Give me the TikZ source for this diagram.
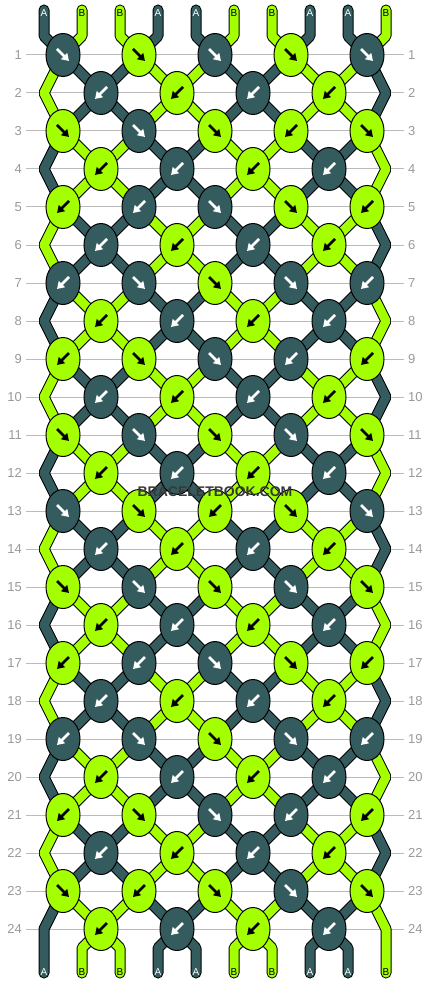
\documentclass[tikz,border=0pt]{standalone}
\usepackage{fontspec}
\setmainfont{Liberation Sans}
\usetikzlibrary{shapes.geometric,arrows.meta,backgrounds}
\definecolor{colA}{HTML}{345B5E}
\definecolor{colB}{HTML}{A4FF00}
\definecolor{arrA}{HTML}{FFFFFF}
\definecolor{arrB}{HTML}{000000}
\definecolor{numgray}{HTML}{999999}
\definecolor{linegray}{HTML}{BBBBBB}
\definecolor{wmgray}{HTML}{383838}

\begin{document}
\begin{tikzpicture}[x=1pt, y=-1pt,
    knot/.style={ellipse, draw, line width=1pt, minimum width=34pt, minimum height=43pt, inner sep=0pt},
    knotarrow/.style={line width=2.6pt, -{Triangle[length=7pt,width=8.5pt]}},
    thread/.style={draw=black, line width=1pt, double distance=9pt, line join=bevel, line cap=round},
    lab/.style={font=\fontsize{10}{10}\selectfont, inner sep=0pt},
    num/.style={font=\fontsize{13}{13}\selectfont, text=numgray, inner sep=4pt},
    rowline/.style={draw=linegray, line width=1pt},
    wmark/.style={font=\bfseries\fontsize{14}{14}\selectfont, text=wmgray}]
  \useasboundingbox (0,0) rectangle (430,984);

  % knots, row by row: colour / direction
  \foreach \r/\row in {1/{A/R,B/R,A/R,B/R,A/R}, 2/{A/L,B/L,A/L,B/L},
      3/{B/R,A/R,B/R,B/L,B/R}, 4/{B/L,A/L,B/L,A/L},
      5/{B/L,A/L,A/R,B/R,B/L}, 6/{A/L,B/L,A/L,B/L},
      7/{A/L,A/R,B/R,A/R,A/L}, 8/{B/L,A/L,B/L,A/L},
      9/{B/L,B/R,A/R,A/L,B/L}, 10/{A/L,B/L,A/L,B/L},
      11/{B/R,A/R,B/R,A/R,B/R}, 12/{B/L,A/L,B/L,A/L},
      13/{A/R,B/R,B/L,B/R,A/R}, 14/{A/L,B/L,A/L,B/L},
      15/{B/R,A/R,B/R,A/R,B/R}, 16/{B/L,A/L,B/L,A/L},
      17/{B/L,A/L,A/R,B/R,B/L}, 18/{A/L,B/L,A/L,B/L},
      19/{A/L,A/R,B/R,A/R,A/L}, 20/{B/L,A/L,B/L,A/L},
      21/{B/L,B/R,A/R,A/L,B/L}, 22/{A/L,B/L,A/L,B/L},
      23/{B/R,B/L,B/R,A/R,B/R}, 24/{B/L,A/L,B/L,A/L}}{
    \pgfmathtruncatemacro\off{mod(\r+1,2)*38}
    \foreach \kc/\kd [count=\k] in \row {
      \node (k\r-\k) at ({63+\off+76*(\k-1)}, {55+38*(\r-1)}) [knot, fill=col\kc] {};
      \if\kd R\def\sx{1}\else\def\sx{-1}\fi
      \draw[knotarrow, draw=arr\kc] (k\r-\k.center) ++(-6*\sx,-6) -- ++(12*\sx,12);
    }
  }

  % string labels
  \foreach \p/\l in {0/A,1/B,2/B,3/A,4/A,5/B,6/B,7/A,8/A,9/B}{
    \node (t\p) at ({44+38*\p}, 13) [lab, text=arr\l] {\l};
    \node (b\p) at ({44+38*\p}, 972) [lab, text=arr\l] {\l};
  }

  \node (wm) at (215,492) [wmark] {BRACELETBOOK.COM};

  \begin{scope}[on background layer]
    \foreach \r in {1,...,24}{
      \node (nl\r) at (26, {55+38*(\r-1)}) [num, anchor=east] {\r};
      \node (nr\r) at (404, {55+38*(\r-1)}) [num, anchor=west] {\r};
      \draw[rowline] (nl\r) -- (nr\r);
    }

    % top ends
    \foreach \p/\l in {0/A,1/B,2/B,3/A,4/A,5/B,6/B,7/A,8/A,9/B}{
      \pgfmathtruncatemacro\j{int(\p/2)+1}
      \draw[thread, double=col\l] ([yshift=3pt]t\p.center) -- ++(0,26) -- (k1-\j.center);
    }

    % odd rows down to even rows
    \foreach \r in {1,3,...,23}{
      \pgfmathtruncatemacro\n{\r+1}
      \pgfmathtruncatemacro\s{mod((\r-1)/2,2)}
      \foreach \j in {1,...,5}{
        \ifodd\numexpr\j+\s\relax \def\cl{colB}\def\cr{colA}\else \def\cl{colA}\def\cr{colB}\fi
        \pgfmathtruncatemacro\jl{\j-1}
        \ifnum\j>1 \draw[thread, double=\cl] (k\r-\j.center) -- (k\n-\jl.center);\fi
        \ifnum\j<5 \draw[thread, double=\cr] (k\r-\j.center) -- (k\n-\j.center);\fi
      }
    }

    % even rows down to odd rows
    \foreach \r in {2,4,...,22}{
      \pgfmathtruncatemacro\n{\r+1}
      \pgfmathtruncatemacro\s{mod((\r-2)/2,2)}
      \foreach \i in {1,...,4}{
        \ifodd\numexpr\i+\s\relax \def\cl{colA}\else \def\cl{colB}\fi
        \pgfmathtruncatemacro\ip{\i+1}
        \draw[thread, double=\cl] (k\r-\i.center) -- (k\n-\i.center);
        \draw[thread, double=\cl] (k\r-\i.center) -- (k\n-\ip.center);
      }
    }

    % edge strings
    \foreach \r in {2,4,...,22}{
      \pgfmathtruncatemacro\a{\r-1}
      \pgfmathtruncatemacro\b{\r+1}
      \pgfmathtruncatemacro\s{mod((\r-2)/2,2)}
      \ifnum\s=0 \def\cl{colB}\def\cr{colA}\else \def\cl{colA}\def\cr{colB}\fi
      \coordinate (L\r) at (44, {55+38*(\r-1)});
      \coordinate (R\r) at (386, {55+38*(\r-1)});
      \draw[thread, double=\cl] (k\a-1.center) -- (L\r) -- (k\b-1.center);
      \draw[thread, double=\cr] (k\a-5.center) -- (R\r) -- (k\b-5.center);
    }

    % bottom ends
    \foreach \i in {1,...,4}{
      \pgfmathtruncatemacro\q{2*\i-1}
      \pgfmathtruncatemacro\qq{2*\i}
      \ifodd\i\def\cl{colB}\else\def\cl{colA}\fi
      \draw[thread, double=\cl] (k24-\i.center) -- ++(-19,19) -- ([yshift=-1pt]b\q.center);
      \draw[thread, double=\cl] (k24-\i.center) -- ++(19,19) -- ([yshift=-1pt]b\qq.center);
    }
    \coordinate (L24) at (44,929);
    \coordinate (R24) at (386,929);
    \draw[thread, double=colA] (k23-1.center) -- (L24) -- ([yshift=-1pt]b0.center);
    \draw[thread, double=colB] (k23-5.center) -- (R24) -- ([yshift=-1pt]b9.center);
  \end{scope}
\end{tikzpicture}
\end{document}
